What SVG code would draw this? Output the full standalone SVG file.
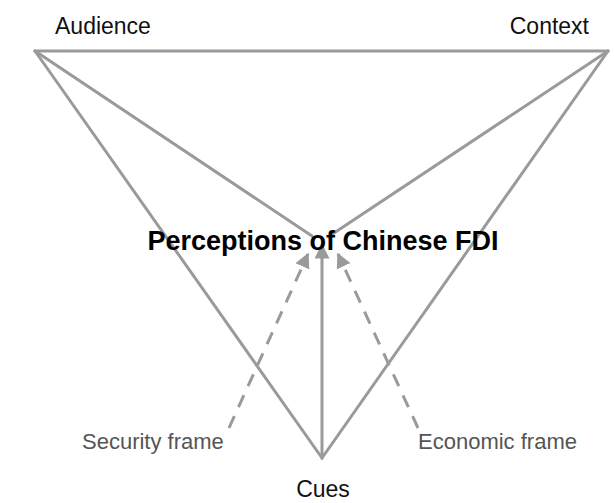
<svg xmlns="http://www.w3.org/2000/svg" width="614" height="503" viewBox="0 0 614 503">
<style>
.ln{stroke:#9a9a9a;stroke-width:3;fill:none;stroke-linecap:round}
.dash{stroke-dasharray:13 10;stroke-linecap:butt}
.lbl{font-family:"Liberation Sans",Arial,sans-serif;font-size:23px;fill:#111}
.frm{font-family:"Liberation Sans",Arial,sans-serif;font-size:22px;fill:#555}
.ttl{font-family:"Liberation Sans",Arial,sans-serif;font-size:27px;font-weight:bold;fill:#000}
</style>
<defs>
<marker id="ah" viewBox="0 0 10 10" refX="9" refY="5" markerWidth="5" markerHeight="5" orient="auto" markerUnits="strokeWidth">
<path d="M0,0 L10,5 L0,10 z" fill="#9a9a9a"/>
</marker>
</defs>
<g id="connectors">
<path class="ln" d="M35,51 L608,51"/>
<path class="ln" d="M35,51 L322,458 L608,51"/>
<path class="ln" d="M35,51 L312,236"/>
<path class="ln" d="M608,51 L331,235"/>
<path class="ln" d="M322,458 L322,245" marker-end="url(#ah)"/>
<path class="ln dash" d="M229,428 L308,254" marker-end="url(#ah)"/>
<path class="ln dash" d="M418,428 L338,254" marker-end="url(#ah)"/>
</g>
<g id="audience"><text class="lbl" x="55" y="34">Audience</text></g>
<g id="context"><text class="lbl" x="589" y="34" text-anchor="end">Context</text></g>
<g id="perceptions"><text class="ttl" x="323" y="250" text-anchor="middle">Perceptions of Chinese FDI</text></g>
<g id="security"><text class="frm" x="82" y="449">Security frame</text></g>
<g id="economic"><text class="frm" x="418" y="449">Economic frame</text></g>
<g id="cues"><text class="lbl" x="323" y="497" text-anchor="middle">Cues</text></g>
</svg>
